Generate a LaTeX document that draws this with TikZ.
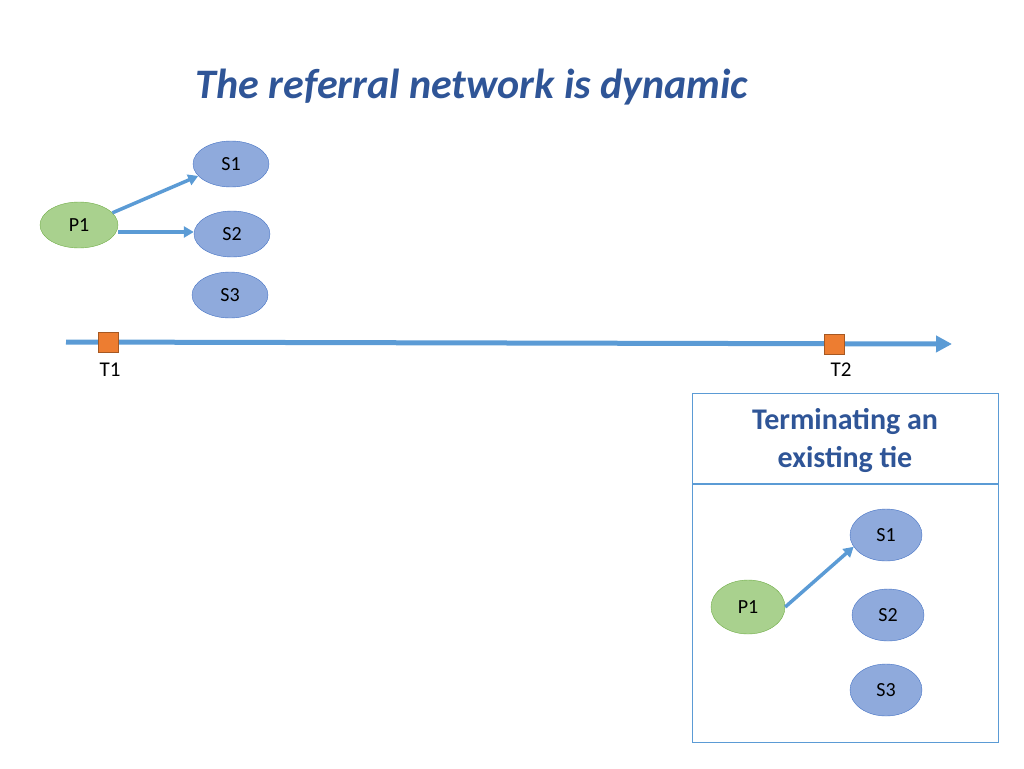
\documentclass[tikz,border=0pt]{standalone}
\usepackage{fontspec}
\setmainfont{Carlito}
\usetikzlibrary{arrows.meta,shapes.geometric}
\definecolor{tblue}{HTML}{2F5597}
\definecolor{abl}{HTML}{5B9BD5}
\definecolor{sfill}{HTML}{8FAADC}
\definecolor{sline}{HTML}{4472C4}
\definecolor{gfill}{HTML}{A9D18E}
\definecolor{gline}{HTML}{70AD47}
\definecolor{org}{HTML}{ED7D31}
\begin{document}
\begin{tikzpicture}[x=1pt,y=-1pt,
  s/.style={ellipse,draw=sline,fill=sfill,minimum width=#1,inner sep=0pt,font=\fontsize{20}{22}\selectfont},
  s/.default=76,
  p/.style={ellipse,draw=gline,fill=gfill,inner sep=0pt,font=\fontsize{20}{22}\selectfont},
  arr/.style={draw=abl,line width=3.5pt,-{Triangle[length=10pt,width=11pt]}},
  sq/.style={draw=org!70!black,fill=org,minimum size=20pt,inner sep=0pt}]
\useasboundingbox (0,0) rectangle (1024,768);
\node[font=\fontsize{42}{48}\selectfont\bfseries\itshape,text=tblue] (title) at (472,87) {The referral network is dynamic};
\node[s,minimum height=46pt] (s1) at (231,164) {S1};
\node[s,minimum height=46pt] (s2) at (232,234) {S2};
\node[s,minimum height=46pt] (s3) at (230,295) {S3};
\node[p,minimum width=78pt,minimum height=46pt] (p1) at (79,225) {P1};
\draw[arr] (p1.20) -- (s1.200);
\draw[arr] ([yshift=-7pt]p1.east) -- ([yshift=2pt]s2.west);
\coordinate (ta) at (66,342);
\coordinate (tb) at (952,344);
\draw[draw=abl,line width=5pt,-{Triangle[length=16pt,width=16pt]}] (ta) -- (tb);
\node[sq] (t1) at (108,342) {};
\node[sq] (t2) at (834,344) {};
\node[font=\fontsize{21}{24}\selectfont] (l1) at (110,370) {T1};
\node[font=\fontsize{21}{24}\selectfont] (l2) at (841,370) {T2};
\node[draw=abl,line width=1.2pt,minimum width=306pt,minimum height=349pt,anchor=north west] (box) at (692,393) {};
\coordinate (hl) at (692,484); \coordinate (hr) at (998,484);
\draw[abl,line width=2pt] (hl) -- (hr);
\node[font=\fontsize{30}{38}\selectfont\bfseries,text=tblue,align=center] (tt) at (845,440) {Terminating an\\existing tie};
\node[s=72,minimum height=52pt] (b1) at (886,535) {S1};
\node[s=72,minimum height=52pt] (b2) at (888,615) {S2};
\node[s=72,minimum height=52pt] (b3) at (886,690) {S3};
\node[p,minimum width=74pt,minimum height=54pt] (bp) at (748,607) {P1};
\draw[arr] (bp.east) -- (b1.200);
\end{tikzpicture}
\end{document}
